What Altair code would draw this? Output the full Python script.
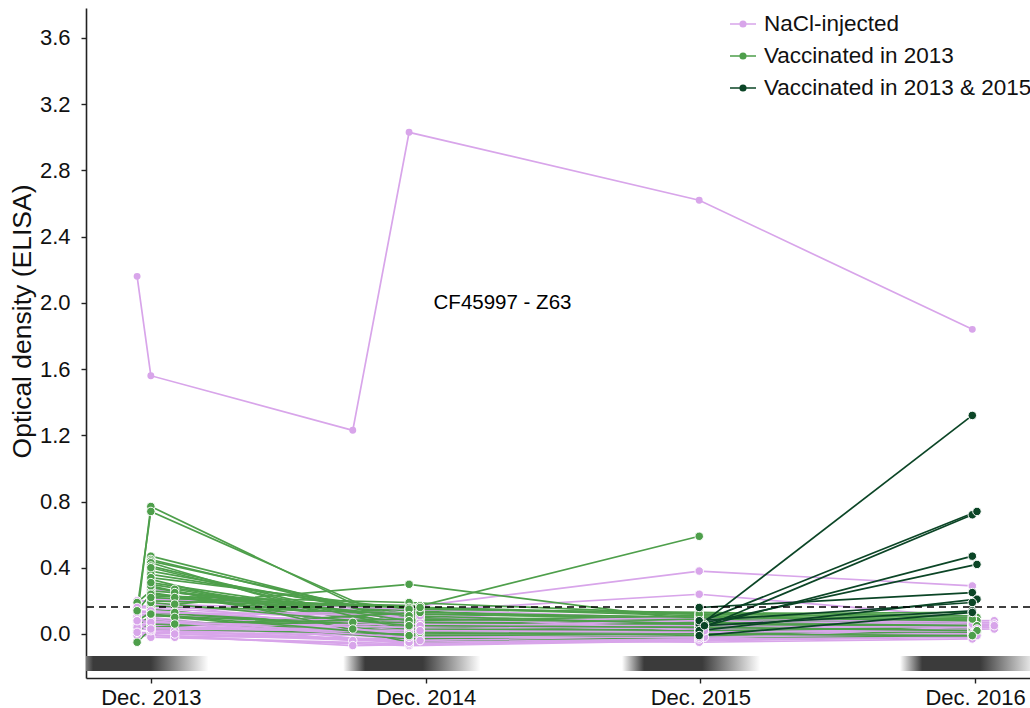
import altair as alt
import pandas as pd

FONT = "Liberation Sans"

GROUPS = ["NaCl-injected", "Vaccinated in 2013", "Vaccinated in 2013 & 2015"]
COLORS = ["#d8a5ea", "#4e9f4b", "#0b4526"]

# Sampling visits, in years after December 2013
VISITS = {"a": -0.05, "b": 0.0, "c": 0.087, "d": 0.735, "e": 0.94, "f": 0.98,
          "g": 1.996, "h": 2.015, "i": 2.99, "j": 3.007, "k": 3.07}

TICK_YEARS = [0, 1, 2, 3]
TICK_LABELS = ["Dec. 2013", "Dec. 2014", "Dec. 2015", "Dec. 2016"]
OD_TICKS = [0.0, 0.4, 0.8, 1.2, 1.6, 2.0, 2.4, 2.8, 3.2, 3.6]

# Individual followed up and labelled on the plot
FOCUS_ID = "CF45997 - Z63"
FOCUS = [("a", 2.16), ("b", 1.56), ("d", 1.23), ("e", 3.03), ("g", 2.62), ("i", 1.84)]
FOCUS_LABEL_T, FOCUS_LABEL_OD = 1.28, 2.0

NACL = [
    [("a", .20), ("f", .17), ("g", .38), ("i", .29)],
    [("b", .18), ("f", .14), ("g", .24), ("i", .10)],
    [("b", .27), ("e", .06), ("g", .03), ("i", .04)],
    [("a", .17), ("e", .10), ("g", .05), ("k", .07)],
    [("b", .15), ("e", -.04), ("g", -.04), ("i", .01)],
    [("a", .12), ("f", .04), ("h", .05), ("k", .05)],
    [("b", .10), ("e", -.06), ("g", .00), ("j", .02)],
    [("a", .09), ("d", -.04), ("g", .01), ("i", .03)],
    [("b", .08), ("e", .02), ("g", -.01), ("k", .04)],
    [("a", .06), ("f", -.03), ("h", .01), ("i", .00)],
    [("c", .02), ("e", .00), ("g", .02), ("j", .04)],
    [("c", -.02), ("e", -.07), ("g", -.04), ("i", -.01)],
    [("a", .00), ("d", -.07), ("g", -.03), ("i", .00)],
    [("b", .05), ("f", .10), ("g", .07), ("k", .08)],
    [("a", .14), ("e", .05), ("g", .03), ("i", .02)],
    [("b", .21), ("e", .15), ("g", .09), ("i", .06)],
    [("a", .03), ("e", -.05), ("h", -.02), ("j", .01)],
    [("b", .01), ("f", -.01), ("g", -.03), ("i", .03)],
    [("a", .11), ("e", .08), ("g", .06), ("k", .06)],
    [("b", -.02), ("e", -.06), ("g", -.04), ("i", -.02)],
    [("a", .07), ("f", .01), ("g", .04), ("i", .05)],
    [("b", .12), ("e", .13), ("g", .02), ("j", .06)],
    [("a", -.01), ("e", -.03), ("g", -.01), ("i", .01)],
    [("b", .04), ("e", .03), ("h", .05), ("i", .04)],
    [("a", .16), ("f", .07), ("g", .10), ("i", .07)],
    [("b", .19), ("e", -.01), ("g", .01), ("j", .00)],
    [("c", .00), ("f", -.04), ("g", -.05), ("i", -.03)],
    [("a", .05), ("e", .06), ("g", .05), ("i", .08)],
    [("b", .09), ("e", -.02), ("g", .00), ("k", .03)],
    [("a", .13), ("f", .11), ("g", .02), ("i", .02)],
    [("b", .02), ("e", -.04), ("g", -.02), ("j", -.01)],
    [("a", .04), ("e", .01), ("h", .02), ("i", .02)],
    [("b", .14), ("f", .05), ("g", .03), ("i", .05)],
    [("a", .01), ("e", -.05), ("g", -.03), ("k", .05)],
    [("b", .07), ("e", .04), ("g", .08), ("i", .06)],
    [("a", .08), ("e", -.02), ("g", -.02), ("i", .00)],
    [("b", .03), ("f", .02), ("g", .01), ("j", .03)],
]

VACC_2013 = [
    [("a", .10), ("b", .77), ("e", .02), ("g", .05), ("i", .04)],
    [("a", .15), ("b", .74), ("e", .05), ("g", .07), ("i", .06)],
    [("b", .47), ("e", .08), ("g", .04), ("j", .03)],
    [("b", .45), ("f", .06), ("g", .09), ("i", .05)],
    [("b", .44), ("e", .10), ("g", .06), ("i", .07)],
    [("b", .43), ("d", .07), ("g", .05), ("i", .02)],
    [("b", .41), ("e", .04), ("h", .03), ("j", .04)],
    [("b", .38), ("f", .09), ("g", .07), ("i", .06)],
    [("b", .36), ("e", .12), ("g", .10), ("i", .08)],
    [("b", .33), ("d", .03), ("g", .02), ("j", .01)],
    [("b", .30), ("e", .06), ("g", .04), ("i", .03)],
    [("b", .28), ("f", .03), ("g", .06), ("i", .05)],
    [("a", .19), ("b", .26), ("e", .14), ("g", .08), ("i", .09)],
    [("b", .25), ("e", .02), ("g", .01), ("j", .00)],
    [("b", .23), ("e", .19), ("g", .12), ("j", .10)],
    [("b", .21), ("f", .17), ("g", .59)],
    [("c", .27), ("e", .04), ("g", .03), ("i", .02)],
    [("c", .25), ("f", .10), ("g", .08), ("j", .06)],
    [("c", .22), ("e", .07), ("g", .05), ("i", .04)],
    [("c", .18), ("e", .30), ("g", .08), ("i", .05)],
    [("c", .13), ("f", .02), ("g", .00), ("i", .01)],
    [("c", .10), ("e", -.02), ("h", .02), ("j", .01)],
    [("b", .20), ("e", .16), ("g", .11), ("i", .07)],
    [("b", .17), ("f", .12), ("g", .09), ("j", .08)],
    [("b", .15), ("e", .01), ("g", .03), ("i", .00)],
    [("a", .08), ("b", .13), ("e", .03), ("g", .02), ("i", .01)],
    [("a", .05), ("b", .11), ("f", .05), ("h", .04), ("j", .03)],
    [("b", .09), ("e", -.03), ("g", -.01), ("i", .02)],
    [("a", .02), ("b", .06), ("e", .07), ("g", .06), ("i", .05)],
    [("a", -.05), ("b", .03), ("e", .00), ("g", .01), ("j", -.01)],
    [("b", .04), ("f", .13), ("g", .10), ("i", .08)],
    [("b", .34), ("e", .15), ("g", .13), ("i", .11)],
    [("b", .40), ("f", .01), ("g", .02), ("i", .03)],
    [("b", .29), ("e", -.05), ("g", -.02), ("i", -.01)],
    [("c", .06), ("e", .09), ("g", .07), ("i", .06)],
    [("a", .14), ("b", .24), ("e", .11), ("h", .06), ("j", .05)],
    [("b", .31), ("e", .08), ("g", .11), ("i", .09)],
    [("b", .19), ("e", .05), ("g", .04), ("j", .02)],
    [("b", .22), ("f", .16), ("g", .12), ("i", .13)],
    [("b", .12), ("e", -.01), ("g", .00), ("i", -.01)],
]

VACC_2013_2015 = [
    [("g", .05), ("i", 1.32)],
    [("g", .03), ("i", .72)],
    [("g", .07), ("j", .74)],
    [("g", .04), ("i", .47)],
    [("g", .06), ("j", .42)],
    [("g", .16), ("i", .25)],
    [("g", .02), ("j", .21)],
    [("g", .08), ("i", .19)],
    [("h", .05), ("i", .14)],
    [("g", -.01), ("i", .13)],
]

THRESHOLD = 0.163

# Shaded sampling seasons along the bottom of the panel
SEASON_START = [-0.29, 0.70, 1.715, 2.727]
SEASON_END = [0.21, 1.20, 2.218, 3.23]
SEASON_LOW, SEASON_HIGH = -0.223, -0.133

rows = []


def add_animal(group, animal, visits, focus=False):
    for code, od in visits:
        rows.append({"animal": animal, "group": group,
                     "t": VISITS[code], "od": od, "focus": focus})


# NaCl and 2013 animals are interleaved so that neither group is drawn
# entirely on top of the other
for n in range(max(len(NACL), len(VACC_2013))):
    if n < len(VACC_2013):
        add_animal(GROUPS[1], f"v{n:02d}", VACC_2013[n])
    if n < len(NACL):
        add_animal(GROUPS[0], f"n{n:02d}", NACL[n])
add_animal(GROUPS[0], FOCUS_ID, FOCUS, focus=True)
for n, visits in enumerate(VACC_2013_2015):
    add_animal(GROUPS[2], f"w{n:02d}", visits)
df = pd.DataFrame(rows)

seasons = pd.DataFrame({"start": SEASON_START, "end": SEASON_END,
                        "low": SEASON_LOW, "high": SEASON_HIGH})

label_expr = "[" + ",".join(f"'{s}'" for s in TICK_LABELS) + "][datum.value]"

X_SCALE = alt.Scale(domain=[-0.236, 3.2], nice=False, zero=False)
Y_SCALE = alt.Scale(domain=[-0.266, 3.781], nice=False, zero=False)
X_AXIS = alt.Axis(values=TICK_YEARS, labelExpr=label_expr, title=None,
                  grid=False, labelPadding=4)
Y_AXIS = alt.Axis(values=OD_TICKS, format=".1f", title="Optical density (ELISA)",
                  grid=False, labelPadding=11, titleX=-64, titleY=313,
                  titleBaseline="middle", titleAngle=270)

x_enc = alt.X("t:Q", scale=X_SCALE, axis=X_AXIS)
y_enc = alt.Y("od:Q", scale=Y_SCALE, axis=Y_AXIS)
color_scale = alt.Scale(domain=GROUPS, range=COLORS)

# Line-and-dot legend key (the dot is built from stroked rings)
key_path = ("M-1,0H1 "
            "M-0.21,0A0.21,0.21 0 1,0 0.21,0A0.21,0.21 0 1,0 -0.21,0 "
            "M-0.09,0A0.09,0.09 0 1,0 0.09,0A0.09,0.09 0 1,0 -0.09,0")
legend = alt.Legend(title=None, orient="none", legendX=643, legendY=2,
                    symbolType=key_path, symbolSize=676, symbolStrokeWidth=1.7,
                    labelFont=FONT, labelFontSize=22.5, labelColor="#111111",
                    labelOffset=7, labelLimit=600, rowPadding=6)

band = alt.Chart(seasons).mark_rect(
    clip=True,
    color=alt.Gradient(
        gradient="linear",
        stops=[alt.GradientStop(color="#ffffff", offset=0),
               alt.GradientStop(color="#3b3b3b", offset=0.16),
               alt.GradientStop(color="#3b3b3b", offset=0.58),
               alt.GradientStop(color="#ffffff", offset=1)],
        x1=0, x2=1, y1=0, y2=0),
).encode(
    x=alt.X("start:Q", scale=X_SCALE, axis=X_AXIS),
    x2="end:Q",
    y=alt.Y("low:Q", scale=Y_SCALE, axis=Y_AXIS),
    y2="high:Q",
)

base = alt.Chart(df)

early_lines = base.transform_filter(alt.datum.group != GROUPS[2]).mark_line(
    strokeWidth=1.7, clip=True
).encode(x=x_enc, y=y_enc, detail="animal:N", order="t:Q",
         color=alt.Color("group:N", scale=color_scale, legend=legend))

late_lines = base.transform_filter(alt.datum.group == GROUPS[2]).mark_line(
    strokeWidth=1.7, clip=True
).encode(x=x_enc, y=y_enc, detail="animal:N", order="t:Q",
         color=alt.Color("group:N", scale=color_scale, legend=legend))

threshold = alt.Chart(pd.DataFrame({"od": [THRESHOLD]})).mark_rule(
    color="black", strokeDash=[7, 5], strokeWidth=1.5
).encode(y=y_enc)

early_points = base.transform_filter(
    (alt.datum.group != GROUPS[2]) & (alt.datum.focus == False)  # noqa: E712
).mark_circle(size=72, opacity=1, stroke="white", strokeWidth=1).encode(
    x=x_enc, y=y_enc, color=alt.Color("group:N", scale=color_scale, legend=None))

late_points = base.transform_filter(alt.datum.group == GROUPS[2]).mark_circle(
    size=72, opacity=1, stroke="white", strokeWidth=1).encode(
    x=x_enc, y=y_enc, color=alt.Color("group:N", scale=color_scale, legend=None))

focus_points = base.transform_filter(alt.datum.focus == True).mark_circle(  # noqa: E712
    size=48, opacity=1).encode(
    x=x_enc, y=y_enc, color=alt.Color("group:N", scale=color_scale, legend=None))

focus_label = alt.Chart(pd.DataFrame({"t": [FOCUS_LABEL_T], "od": [FOCUS_LABEL_OD],
                                      "label": [FOCUS_ID]})).mark_text(
    font=FONT, fontSize=20.5, color="black", align="center", baseline="middle"
).encode(x=x_enc, y=y_enc, text="label:N")

chart = alt.layer(
    band, early_lines, late_lines, threshold,
    early_points, late_points, focus_points, focus_label,
).properties(
    width=944, height=670,
    autosize=alt.AutoSizeParams(type="none"),
    padding={"left": 86, "top": 8, "right": 0, "bottom": 30},
).configure_view(stroke=None).configure_axis(
    labelFont=FONT, labelFontSize=22, labelColor="#111111",
    titleFont=FONT, titleFontSize=26.5, titleFontWeight="normal", titleColor="#111111",
    domainColor="#222222", domainWidth=1.6, tickColor="#222222", tickWidth=1.4, tickSize=5,
)

chart.save("out.html", embed_options={"renderer": "svg", "actions": False})
